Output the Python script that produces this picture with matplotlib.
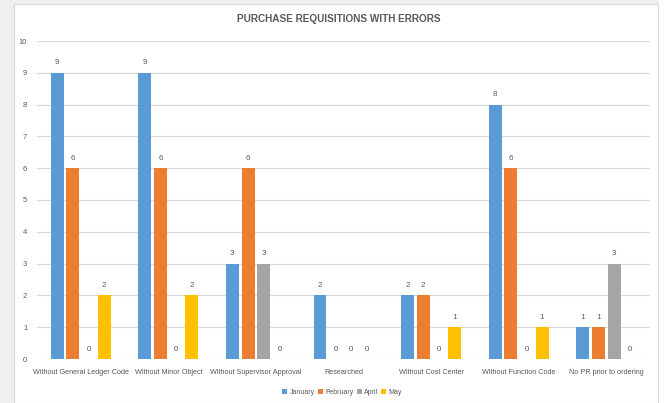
import numpy as np
import matplotlib.pyplot as plt
from matplotlib.patches import Rectangle

plt.rcParams['font.family'] = ['Liberation Sans Narrow', 'Liberation Sans', 'DejaVu Sans']

categories = ["Without General Ledger Code", "Without Minor Object",
              "Without Supervisor Approval", "Researched",
              "Without Cost Center", "Without Function Code",
              "No PR prior to ordering"]
months = ["January", "February", "April", "May"]
january = [9, 9, 3, 2, 2, 8, 1]
february = [6, 6, 6, 0, 2, 6, 1]
april = [0, 0, 3, 0, 0, 0, 3]
may = [2, 2, 0, 0, 1, 1, 0]
colors = ["#5B9BD5", "#ED7D31", "#A5A5A5", "#FFC000"]
text_color = "#595959"

fig = plt.figure(figsize=(6.66, 4.03), dpi=100, facecolor="#efefef")
W, H = 666, 403
# white chart panel with a thin border
fig.patches.append(Rectangle((14 / W, 0), (658 - 14) / W, (403 - 4) / H,
                             transform=fig.transFigure, facecolor="white",
                             edgecolor="#d9d9d9", linewidth=0.8, zorder=0))
fig.patches.append(Rectangle((658.5 / W, 0), 8 / W, 1,
                             transform=fig.transFigure, facecolor="white",
                             edgecolor="none", zorder=0))

ax = fig.add_axes([37 / W, 44 / H, (650 - 37) / W, (359 - 41) / H])
ax.set_facecolor("none")
ax.set_zorder(2)

x = np.arange(len(categories))
step = 0.179
width = 0.148
series = [january, february, april, may]
for i, (vals, name, c) in enumerate(zip(series, months, colors)):
    pos = x + (i - 1.5) * step
    ax.bar(pos, vals, width, color=c, label=name, zorder=3)
    for xp, v in zip(pos, vals):
        ax.text(xp, v + 0.2, str(v), ha="center", va="bottom",
                fontsize=5.8, color=text_color)

ax.set_xlim(-0.5, len(categories) - 0.5)
ax.set_ylim(0, 10)
ax.set_yticks(range(0, 11))
ax.grid(axis="y", color="#d9d9d9", linewidth=0.8, zorder=0)
for s in ax.spines.values():
    s.set_visible(False)
ax.tick_params(axis="both", length=0, labelsize=5.5, labelcolor=text_color)
ax.tick_params(axis="y", pad=7)
ax.tick_params(axis="x", pad=7)
ax.set_xticks(x)
ax.set_xticklabels(categories, fontsize=5.2)

fig.text(339 / W, 1 - 19 / H, "PURCHASE REQUISITIONS WITH ERRORS",
         ha="center", va="center", fontsize=7.2, color=text_color,
         fontweight="bold")

fig.legend(loc="center", bbox_to_anchor=(342 / W, 1 - 392 / H), ncol=4,
           frameon=False, fontsize=5.0, handlelength=0.7, handleheight=0.7,
           handletextpad=0.3, columnspacing=0.5, labelcolor=text_color)

fig.savefig("out.png", dpi=100, facecolor=fig.get_facecolor())
